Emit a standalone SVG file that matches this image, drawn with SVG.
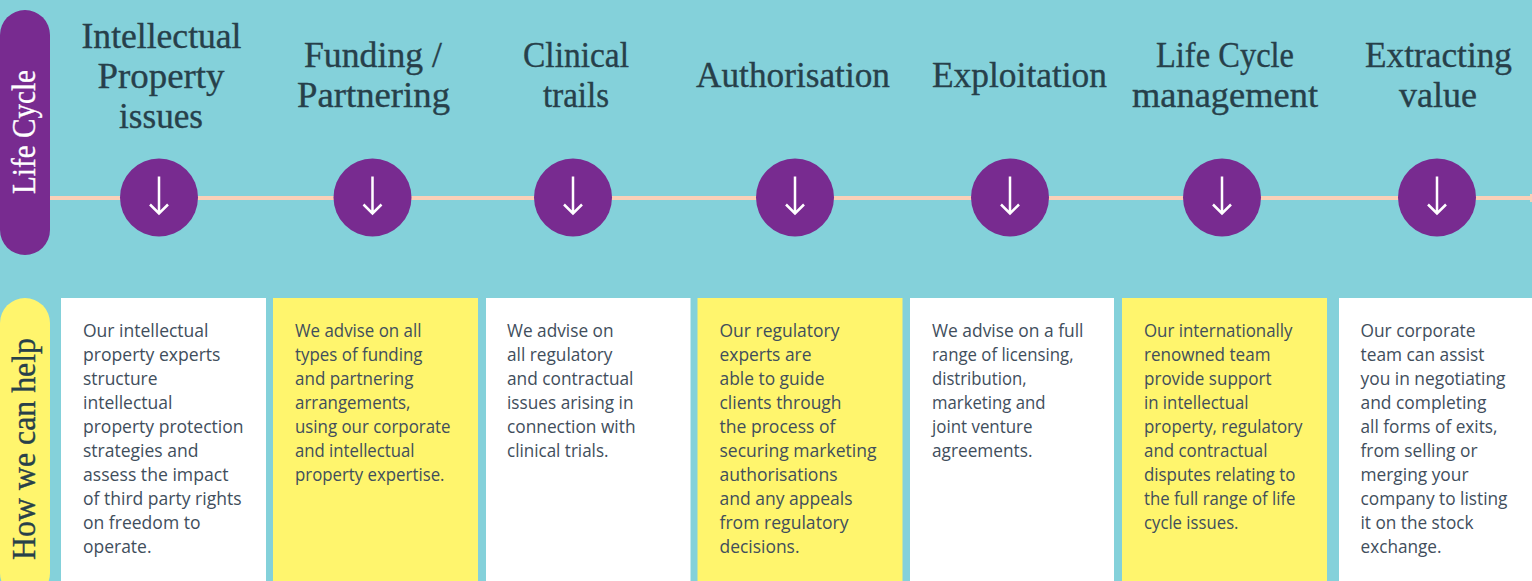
<svg xmlns="http://www.w3.org/2000/svg" width="1532" height="581" viewBox="0 0 1532 581">
<style>
.h{font-family:"Liberation Serif",serif;font-size:36px;fill:#27404a;stroke:#27404a;stroke-width:.35px;text-anchor:middle}
.b{font-family:"Open Sans",sans-serif;font-size:17.500px;fill:#414e5c}
.s{font-family:"Liberation Serif",serif;font-size:34.500px;stroke-width:.35px}
.c{fill:#782b90}
.a{fill:none;stroke:#fff;stroke-width:2.500}
.w{fill:#fff}.y{fill:#fff56d}
</style>
<defs>
<g id="arr"><circle class="c" r="39"/><path class="a" d="M0-21V16M-9 7L0 16L9 7"/></g>
</defs>
<rect width="1532" height="581" fill="#84d1da"/>
<g id="connectors"><path d="M50 198H1532" stroke="#fad0b8" stroke-width="4" fill="none"/><path d="M1531 194v8" stroke="#fad0b8" stroke-width="2"/></g>
<g id="life-cycle-label"><rect x="0" y="10" width="50" height="245" rx="25" class="c"/><text class="s" fill="#fff" stroke="#fff" transform="translate(35 194) rotate(-90)" textLength="124" lengthAdjust="spacingAndGlyphs">Life Cycle</text></g>
<g id="help-label"><rect x="0" y="298" width="50" height="300" rx="25" class="y"/><text class="s" fill="#27404a" stroke="#27404a" transform="translate(35 560) rotate(-90)" textLength="222" lengthAdjust="spacingAndGlyphs">How we can help</text></g>
<g id="ip"><text class="h" x="161.500" y="48" textLength="160" lengthAdjust="spacingAndGlyphs">Intellectual</text><text class="h" x="161" y="88" textLength="127" lengthAdjust="spacingAndGlyphs">Property</text><text class="h" x="161" y="128" textLength="84" lengthAdjust="spacingAndGlyphs">issues</text><use href="#arr" x="159" y="197.500"/><rect class="w" x="61" y="298" width="205" height="283"/>
<text class="b" x="83" y="337" textLength="125.500" lengthAdjust="spacingAndGlyphs">Our intellectual</text><text class="b" x="83" y="361" textLength="137.500" lengthAdjust="spacingAndGlyphs">property experts</text><text class="b" x="83" y="385" textLength="74.500" lengthAdjust="spacingAndGlyphs">structure</text><text class="b" x="83" y="409" textLength="89.500" lengthAdjust="spacingAndGlyphs">intellectual</text><text class="b" x="83" y="433" textLength="160.500" lengthAdjust="spacingAndGlyphs">property protection</text><text class="b" x="83" y="457" textLength="115.500" lengthAdjust="spacingAndGlyphs">strategies and</text><text class="b" x="83" y="481" textLength="145.500" lengthAdjust="spacingAndGlyphs">assess the impact</text><text class="b" x="83" y="505" textLength="158.500" lengthAdjust="spacingAndGlyphs">of third party rights</text><text class="b" x="83" y="529" textLength="117.500" lengthAdjust="spacingAndGlyphs">on freedom to</text><text class="b" x="83" y="553" textLength="68.500" lengthAdjust="spacingAndGlyphs">operate.</text></g>
<g id="funding"><text class="h" x="373" y="67" textLength="138" lengthAdjust="spacingAndGlyphs">Funding /</text><text class="h" x="373.500" y="107" textLength="153" lengthAdjust="spacingAndGlyphs">Partnering</text><use href="#arr" x="372.500" y="197.500"/><rect class="y" x="273" y="298" width="205" height="283"/>
<text class="b" x="295" y="337" textLength="126.500" lengthAdjust="spacingAndGlyphs">We advise on all</text><text class="b" x="295" y="361" textLength="127.500" lengthAdjust="spacingAndGlyphs">types of funding</text><text class="b" x="295" y="385" textLength="118.500" lengthAdjust="spacingAndGlyphs">and partnering</text><text class="b" x="295" y="409" textLength="115.500" lengthAdjust="spacingAndGlyphs">arrangements,</text><text class="b" x="295" y="433" textLength="155.500" lengthAdjust="spacingAndGlyphs">using our corporate</text><text class="b" x="295" y="457" textLength="119.500" lengthAdjust="spacingAndGlyphs">and intellectual</text><text class="b" x="295" y="481" textLength="149.500" lengthAdjust="spacingAndGlyphs">property expertise.</text></g>
<g id="clinical"><text class="h" x="576" y="67" textLength="106" lengthAdjust="spacingAndGlyphs">Clinical</text><text class="h" x="576" y="107" textLength="66" lengthAdjust="spacingAndGlyphs">trails</text><use href="#arr" x="573" y="197.500"/><rect class="w" x="486" y="298" width="204.500" height="283"/>
<text class="b" x="507" y="337" textLength="106.500" lengthAdjust="spacingAndGlyphs">We advise on</text><text class="b" x="507" y="361" textLength="105.500" lengthAdjust="spacingAndGlyphs">all regulatory</text><text class="b" x="507" y="385" textLength="126.500" lengthAdjust="spacingAndGlyphs">and contractual</text><text class="b" x="507" y="409" textLength="126.500" lengthAdjust="spacingAndGlyphs">issues arising in</text><text class="b" x="507" y="433" textLength="128.500" lengthAdjust="spacingAndGlyphs">connection with</text><text class="b" x="507" y="457" textLength="101.500" lengthAdjust="spacingAndGlyphs">clinical trials.</text></g>
<g id="authorisation"><text class="h" x="793" y="87" textLength="194" lengthAdjust="spacingAndGlyphs">Authorisation</text><use href="#arr" x="795" y="197.500"/><rect class="y" x="697.500" y="298" width="205" height="283"/>
<text class="b" x="719.500" y="337" textLength="120" lengthAdjust="spacingAndGlyphs">Our regulatory</text><text class="b" x="719.500" y="361" textLength="92" lengthAdjust="spacingAndGlyphs">experts are</text><text class="b" x="719.500" y="385" textLength="105" lengthAdjust="spacingAndGlyphs">able to guide</text><text class="b" x="719.500" y="409" textLength="122" lengthAdjust="spacingAndGlyphs">clients through</text><text class="b" x="719.500" y="433" textLength="116" lengthAdjust="spacingAndGlyphs">the process of</text><text class="b" x="719.500" y="457" textLength="157" lengthAdjust="spacingAndGlyphs">securing marketing</text><text class="b" x="719.500" y="481" textLength="118" lengthAdjust="spacingAndGlyphs">authorisations</text><text class="b" x="719.500" y="505" textLength="133" lengthAdjust="spacingAndGlyphs">and any appeals</text><text class="b" x="719.500" y="529" textLength="129" lengthAdjust="spacingAndGlyphs">from regulatory</text><text class="b" x="719.500" y="553" textLength="80" lengthAdjust="spacingAndGlyphs">decisions.</text></g>
<g id="exploitation"><text class="h" x="1019.500" y="87" textLength="175" lengthAdjust="spacingAndGlyphs">Exploitation</text><use href="#arr" x="1010" y="197.500"/><rect class="w" x="910" y="298" width="204" height="283"/>
<text class="b" x="932" y="337" textLength="151.500" lengthAdjust="spacingAndGlyphs">We advise on a full</text><text class="b" x="932" y="361" textLength="141.500" lengthAdjust="spacingAndGlyphs">range of licensing,</text><text class="b" x="932" y="385" textLength="94.500" lengthAdjust="spacingAndGlyphs">distribution,</text><text class="b" x="932" y="409" textLength="113.500" lengthAdjust="spacingAndGlyphs">marketing and</text><text class="b" x="932" y="433" textLength="100.500" lengthAdjust="spacingAndGlyphs">joint venture</text><text class="b" x="932" y="457" textLength="100.500" lengthAdjust="spacingAndGlyphs">agreements.</text></g>
<g id="lifecycle"><text class="h" x="1225" y="67" textLength="138" lengthAdjust="spacingAndGlyphs">Life Cycle</text><text class="h" x="1225" y="107" textLength="186" lengthAdjust="spacingAndGlyphs">management</text><use href="#arr" x="1222" y="197.500"/><rect class="y" x="1122" y="298" width="205" height="283"/>
<text class="b" x="1144" y="337" textLength="148.500" lengthAdjust="spacingAndGlyphs">Our internationally</text><text class="b" x="1144" y="361" textLength="126.500" lengthAdjust="spacingAndGlyphs">renowned team</text><text class="b" x="1144" y="385" textLength="127.500" lengthAdjust="spacingAndGlyphs">provide support</text><text class="b" x="1144" y="409" textLength="104.500" lengthAdjust="spacingAndGlyphs">in intellectual</text><text class="b" x="1144" y="433" textLength="158.500" lengthAdjust="spacingAndGlyphs">property, regulatory</text><text class="b" x="1144" y="457" textLength="123.500" lengthAdjust="spacingAndGlyphs">and contractual</text><text class="b" x="1144" y="481" textLength="151.500" lengthAdjust="spacingAndGlyphs">disputes relating to</text><text class="b" x="1144" y="505" textLength="151.500" lengthAdjust="spacingAndGlyphs">the full range of life</text><text class="b" x="1144" y="529" textLength="94.500" lengthAdjust="spacingAndGlyphs">cycle issues.</text></g>
<g id="extracting"><text class="h" x="1438.500" y="67" textLength="147" lengthAdjust="spacingAndGlyphs">Extracting</text><text class="h" x="1438" y="107" textLength="78" lengthAdjust="spacingAndGlyphs">value</text><use href="#arr" x="1437" y="197.500"/><rect class="w" x="1339" y="298" width="193" height="283"/>
<text class="b" x="1360.500" y="337" textLength="115" lengthAdjust="spacingAndGlyphs">Our corporate</text><text class="b" x="1360.500" y="361" textLength="124" lengthAdjust="spacingAndGlyphs">team can assist</text><text class="b" x="1360.500" y="385" textLength="145" lengthAdjust="spacingAndGlyphs">you in negotiating</text><text class="b" x="1360.500" y="409" textLength="126" lengthAdjust="spacingAndGlyphs">and completing</text><text class="b" x="1360.500" y="433" textLength="137" lengthAdjust="spacingAndGlyphs">all forms of exits,</text><text class="b" x="1360.500" y="457" textLength="117" lengthAdjust="spacingAndGlyphs">from selling or</text><text class="b" x="1360.500" y="481" textLength="108" lengthAdjust="spacingAndGlyphs">merging your</text><text class="b" x="1360.500" y="505" textLength="147" lengthAdjust="spacingAndGlyphs">company to listing</text><text class="b" x="1360.500" y="529" textLength="113" lengthAdjust="spacingAndGlyphs">it on the stock</text><text class="b" x="1360.500" y="553" textLength="81" lengthAdjust="spacingAndGlyphs">exchange.</text></g>
</svg>
